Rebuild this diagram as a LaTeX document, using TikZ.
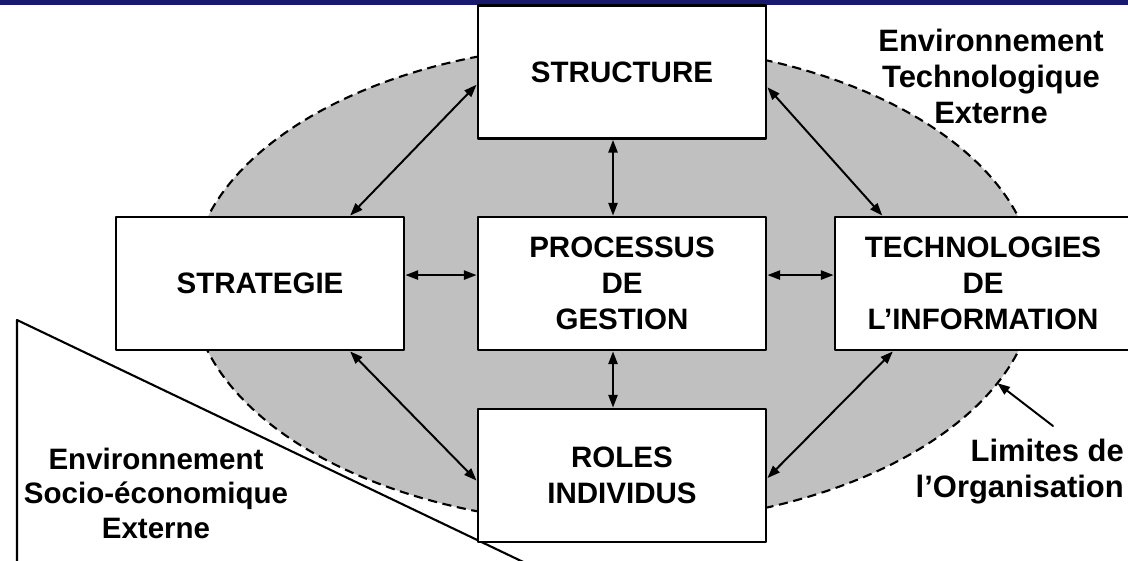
\documentclass[tikz,border=0pt]{standalone}
\usepackage{fontspec}
\setmainfont{Liberation Sans}
\usetikzlibrary{arrows.meta}
\definecolor{bandeau}{RGB}{25,25,112}
\definecolor{orga}{RGB}{192,192,192}

\begin{document}
\begin{tikzpicture}[x=0.025cm,y=0.025cm,line cap=round,line join=round,>={Triangle[length=9pt,width=6.5pt]},
    boite/.style={draw,line width=2pt,fill=white,minimum width=7.2cm,minimum height=3.325cm,
      align=center,font=\fontsize{21}{25.6}\selectfont\bfseries},
    lien/.style={<->,line width=1.4pt},
    legende/.style={inner sep=0pt,font=\fontsize{22}{25.6}\selectfont\bfseries}]
      \useasboundingbox (0,0) rectangle (1128,560);
      \clip (0,0) rectangle (1128,560);

      % Bandeau du haut
      \fill[bandeau] (0,555) rectangle (1128,560);

      % Limites de l'organisation
      \coordinate (org) at (613,276);
      \draw[fill=orga,line width=1.5pt,line cap=butt,dash pattern=on 6.5pt off 4pt]
        (org) ellipse [x radius=422, y radius=240];

      % Environnement socio-economique (triangle)
      \draw[line width=1.5pt] (17,-10) -- (17,240) -- (540,-10);

      % Les cinq boites
      \node[boite] (structure) at (622,488) {STRUCTURE};
      \node[boite] (strategie) at (260,276.5) {STRATEGIE};
      \node[boite] (processus) at (622,276.5) {PROCESSUS\\DE\\GESTION};
      \node[boite,minimum width=7.4cm] (techno) at (983,276.5) {TECHNOLOGIES\\DE\\L'INFORMATION};
      \node[boite] (roles) at (622,84.5) {ROLES\\INDIVIDUS};

      % Liens entre les boites
      \draw[lien] ([xshift=-6.4pt]structure.south) -- ([xshift=-6.4pt]processus.north);
      \draw[lien] ([xshift=-6.4pt]processus.south) -- ([xshift=-6.4pt]roles.north);
      \draw[lien] ([yshift=6pt]strategie.east) -- ([yshift=6pt]processus.west);
      \draw[lien] ([yshift=6pt]processus.east) -- ([yshift=6pt]techno.west);
      \draw[lien] (strategie.37) -- (structure.185);
      \draw[lien] (structure.-6) -- (techno.146);
      \draw[lien] (strategie.-37) -- (roles.182);
      \draw[lien] (techno.217) -- (roles.-1);

      % Textes
      \node[legende,align=center] (envtech) at (991,484) {Environnement\\Technologique\\Externe};
      \node[legende,align=center,font=\fontsize{21}{24.5}\selectfont\bfseries] (envsocio) at (156,67) {Environnement\\Socio-économique\\Externe};
      \node[legende,align=right,anchor=east] (limites) at (1124,88) {Limites de\\l'Organisation};

      % Fleche vers la limite
      \path (org) ++(-24.4:422 and 240) coordinate (bord);
      \coordinate (limqueue) at (1053,134);
      \draw[->,line width=1.4pt] (limqueue) -- (bord);
    \end{tikzpicture}
\end{document}
